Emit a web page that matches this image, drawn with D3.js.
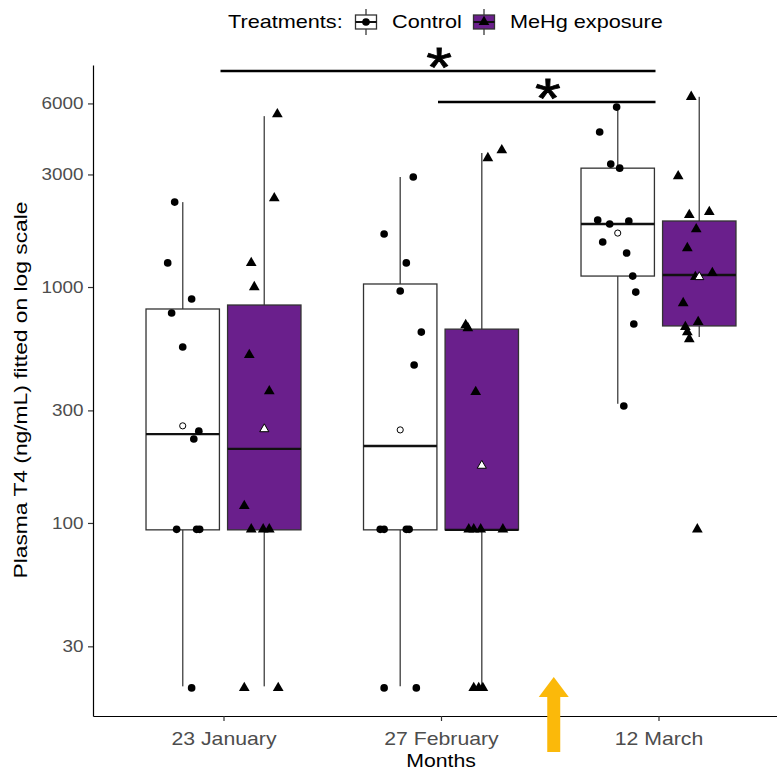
<!DOCTYPE html>
<html>
<head>
<meta charset="utf-8">
<script src="https://cdn.jsdelivr.net/npm/d3@7"></script>
<style>
  body { margin: 0; background: #fff; }
  svg text { font-family: "Liberation Sans", Arial, sans-serif; }
</style>
</head>
<body>
<svg id="chart"></svg>
<script>
const months = ["23 January", "27 February", "12 March"];
const treatments = ["Control", "MeHg exposure"];

// plasma T4 (ng/mL) of each fish
const janControl = [2290, 1265, 890, 776, 557, 245, 227, 94, 94, 94, 20];
const janMehg = [5400, 2380, 1265, 1000, 515, 362, 118, 94, 94, 94, 20, 20];
const febControl = [2925, 1678, 1265, 962, 644, 467, 94, 94, 94, 94, 20, 20];
const febMehg = [3800, 3520, 690, 670, 359, 94, 94, 94, 94, 20, 20, 20];
const marControl = [5790, 4540, 3320, 3190, 1923, 1905, 1850, 1552, 1394, 1113, 952, 697, 313];
const marMehg = [6400, 2950, 2080, 2020, 1760, 1463, 1147, 1103, 855, 711, 677, 644, 602, 94];

// horizontal jitter of each point (in category widths)
const janControlJitter = [-0.037, -0.069, 0.041, -0.051, 0, 0.074, 0.051, -0.028, 0.064, 0.078, 0.041];
const janMehgJitter = [0.060, 0.046, -0.060, -0.046, -0.069, 0.023, -0.092, -0.060, -0.005, 0.023, -0.092, 0.064];
const febControlJitter = [0.060, -0.074, 0.028, 0, 0.097, 0.064, -0.092, -0.074, 0.028, 0.041, -0.074, 0.074];
const febMehgJitter = [0.092, 0.028, -0.074, -0.064, -0.028, -0.060, -0.037, -0.005, 0.097, -0.037, -0.014, 0.005];
const marControlJitter = [-0.005, -0.083, -0.032, 0.009, -0.092, 0.051, -0.037, -0.069, 0.041, 0.069, 0.083, 0.074, 0.028];
const marMehgJitter = [-0.037, -0.097, 0.046, -0.046, -0.014, -0.055, 0.060, -0.018, -0.074, -0.005, -0.064, -0.055, -0.046, -0.009];

// box stats per month: [lower whisker, q1, median, q3, upper whisker] (log-scale fits)
const controlBoxes = [[20.3, 93.5, 238, 807, 2290], [20.3, 93.5, 212, 1030, 2925], [320, 1113, 1850, 3190, 5900]];
const mehgBoxes = [[20.3, 93.5, 206, 839, 5300], [20.3, 93.5, 93.5, 663, 3700], [614, 684, 1124, 1905, 6400]];
const controlMeans = [258, 248, 1693];
const mehgMeans = [250, 175, 1103];

const yTicks = [30, 100, 300, 1000, 3000, 6000];

// significant pairwise comparisons
const sigFrom = [0, 1];
const sigTo = [2, 2];
const sigAt = [8230, 6080];

const width = 777, height = 771;
const purple = "#6a1f8c";
const sx = 1.18; // text in the figure is stretched horizontally

const svg = d3.select("#chart")
  .attr("width", width)
  .attr("height", height);

const x = d3.scaleLinear().domain([-0.6, 2.6]).range([93, 789]);
const y = d3.scaleLog().domain([15.2, 8730]).range([716, 65]);
const step = x(1) - x(0);
const dodge = 0.1875, boxW = 0.3375;

const groups = [
  {m: 0, t: 0, values: janControl, jitter: janControlJitter},
  {m: 0, t: 1, values: janMehg, jitter: janMehgJitter},
  {m: 1, t: 0, values: febControl, jitter: febControlJitter},
  {m: 1, t: 1, values: febMehg, jitter: febMehgJitter},
  {m: 2, t: 0, values: marControl, jitter: marControlJitter},
  {m: 2, t: 1, values: marMehg, jitter: marMehgJitter}
];
groups.forEach(g => {
  g.box = g.t === 0 ? controlBoxes[g.m] : mehgBoxes[g.m];
  g.mean = g.t === 0 ? controlMeans[g.m] : mehgMeans[g.m];
  g.cx = x(g.m + (g.t === 0 ? -dodge : dodge));
});

const circle = d3.symbol(d3.symbolCircle, 46)();
const triangle = d3.symbol(d3.symbolTriangle, 50)();
const circleSmall = d3.symbol(d3.symbolCircle, 30)();
const triangleSmall = d3.symbol(d3.symbolTriangle, 36)();

// axes
svg.append("g")
  .attr("class", "y-axis")
  .attr("transform", `translate(${x.range()[0]},0)`)
  .call(d3.axisLeft(y).tickValues(yTicks).tickFormat(d3.format("d")).tickSize(5).tickSizeOuter(0).tickPadding(3));

svg.append("g")
  .attr("class", "x-axis")
  .attr("transform", `translate(0,${y.range()[0]})`)
  .call(d3.axisBottom(x).tickValues([0, 1, 2]).tickFormat(i => months[i]).tickSize(5).tickSizeOuter(0).tickPadding(11));

svg.selectAll(".domain").attr("stroke", "#000").attr("stroke-width", 1.2);
svg.selectAll(".tick line").attr("stroke", "#333").attr("stroke-width", 1.2);
svg.selectAll(".tick text")
  .attr("fill", "#4d4d4d")
  .attr("transform", `scale(${sx},1)`);
svg.selectAll(".y-axis .tick text").attr("font-size", 16);
svg.selectAll(".x-axis .tick text").attr("font-size", 18);

const box = svg.append("g")
  .selectAll("g")
  .data(groups)
  .join("g");

// whiskers
box.append("line")
  .attr("x1", d => d.cx).attr("x2", d => d.cx)
  .attr("y1", d => y(d.box[3])).attr("y2", d => y(d.box[4]))
  .attr("stroke", "#555").attr("stroke-width", 1.5);
box.append("line")
  .attr("x1", d => d.cx).attr("x2", d => d.cx)
  .attr("y1", d => y(d.box[0])).attr("y2", d => y(d.box[1]))
  .attr("stroke", "#555").attr("stroke-width", 1.5);

box.append("rect")
  .attr("x", d => d.cx - boxW * step / 2)
  .attr("width", boxW * step)
  .attr("y", d => y(d.box[3]))
  .attr("height", d => y(d.box[1]) - y(d.box[3]))
  .attr("fill", d => d.t === 0 ? "#fff" : purple)
  .attr("stroke", "#333")
  .attr("stroke-width", 1.3);

box.append("line")
  .attr("x1", d => d.cx - boxW * step / 2).attr("x2", d => d.cx + boxW * step / 2)
  .attr("y1", d => y(d.box[2])).attr("y2", d => y(d.box[2]))
  .attr("stroke", "#111").attr("stroke-width", 2.4);

// jittered fish
box.selectAll("path.pt")
  .data(d => d.values.map((v, i) => ({v, j: d.jitter[i], g: d})))
  .join("path")
  .attr("class", "pt")
  .attr("d", d => d.g.t === 0 ? circle : triangle)
  .attr("transform", d => `translate(${d.g.cx + d.j * step},${y(d.v)})`)
  .attr("fill", "#000");

// group means
box.append("path")
  .attr("d", d => d.t === 0 ? circleSmall : triangleSmall)
  .attr("transform", d => `translate(${d.cx},${y(d.mean)})`)
  .attr("fill", "#fff")
  .attr("stroke", "#000")
  .attr("stroke-width", 1);

// significance bars
const sig = svg.append("g")
  .selectAll("g")
  .data(sigAt.map((v, i) => ({v, a: sigFrom[i], b: sigTo[i]})))
  .join("g");
sig.append("line")
  .attr("x1", d => x(d.a) - 3).attr("x2", d => x(d.b) - 3)
  .attr("y1", d => y(d.v)).attr("y2", d => y(d.v))
  .attr("stroke", "#000").attr("stroke-width", 2.6);
sig.append("g")
  .attr("transform", d => `translate(${(x(d.a) + x(d.b)) / 2 - 2},${y(d.v) + 15}) scale(${sx},1)`)
  .append("text")
  .attr("text-anchor", "middle")
  .attr("font-size", 56)
  .attr("stroke", "#000")
  .attr("stroke-width", 0.8)
  .text("*");

// sampling arrow between February and March
const ax = (x(1) + x(2)) / 2 + 4;
svg.append("path")
  .attr("d", `M${ax - 6.5},752 L${ax - 6.5},697 L${ax - 15},697 L${ax},677 L${ax + 15},697 L${ax + 6.5},697 L${ax + 6.5},752 Z`)
  .attr("fill", "#fbb90a");

// axis titles
svg.append("g")
  .attr("transform", `translate(${x(1)},767) scale(${sx},1)`)
  .append("text")
  .attr("text-anchor", "middle")
  .attr("font-size", 18)
  .text("Months");

svg.append("g")
  .attr("transform", "translate(27,390) rotate(-90) scale(1.2,1)")
  .append("text")
  .attr("text-anchor", "middle")
  .attr("font-size", 19)
  .text("Plasma T4 (ng/mL) fitted on log scale");

// legend
const legend = svg.append("g");
legend.append("g")
  .attr("transform", `translate(228,28) scale(${sx * 1.02},1)`)
  .append("text").attr("font-size", 18).text("Treatments:");

const keys = legend.selectAll("g.key")
  .data(treatments)
  .join("g")
  .attr("class", "key")
  .attr("transform", (d, i) => `translate(${i === 0 ? 366 : 484},22)`);
keys.append("line").attr("y1", -13).attr("y2", 13).attr("stroke", "#555").attr("stroke-width", 1.5);
keys.append("rect")
  .attr("x", -10.5).attr("y", -7).attr("width", 21).attr("height", 14)
  .attr("fill", (d, i) => i === 0 ? "#fff" : purple)
  .attr("stroke", "#333").attr("stroke-width", 1.3);
keys.append("line").attr("x1", -10.5).attr("x2", 10.5).attr("stroke", "#111").attr("stroke-width", 2);
keys.append("path")
  .attr("d", (d, i) => i === 0 ? circle : triangle)
  .attr("fill", "#000");
keys.append("g")
  .attr("transform", `translate(26,6) scale(${sx * 1.02},1)`)
  .append("text").attr("font-size", 18).text(d => d);
</script>
</body>
</html>
